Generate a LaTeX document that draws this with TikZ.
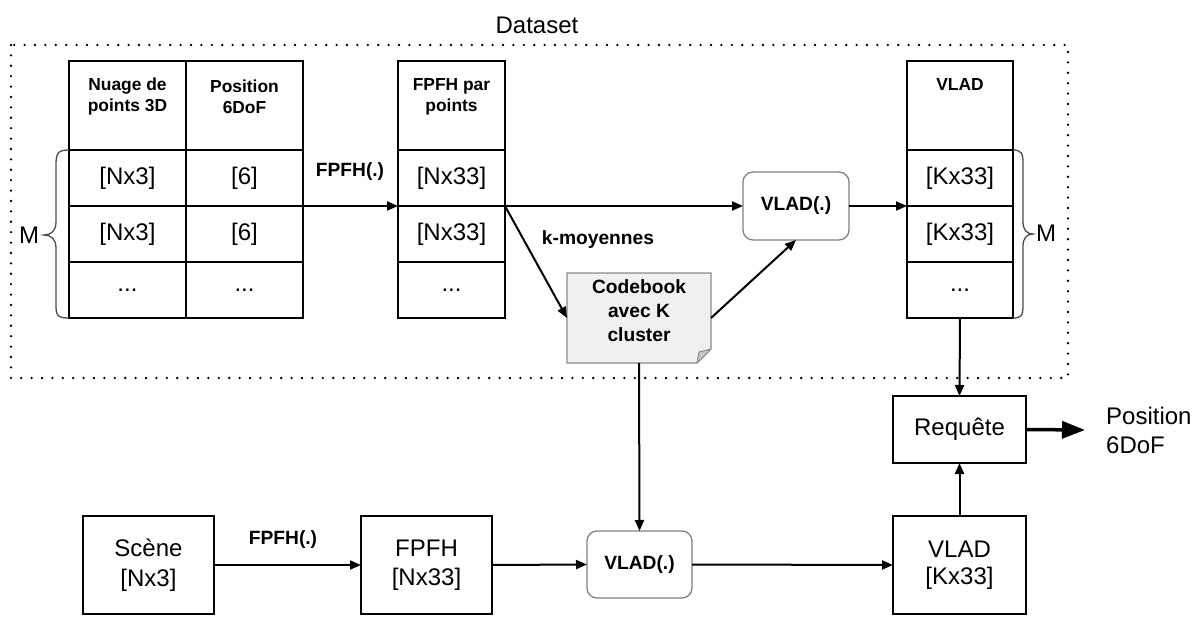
\documentclass[tikz,border=0pt]{standalone}
\usepackage{fontspec}
\setmainfont{Liberation Sans}
\usetikzlibrary{arrows.meta,calc}
\begin{document}
\begin{tikzpicture}[x=1pt,y=-1pt,
  reg/.style={font=\fontsize{24}{29}\selectfont, inner sep=0pt},
  hdr/.style={font=\fontsize{17.4}{21}\selectfont\bfseries, align=center, inner sep=0pt},
  lbl/.style={font=\fontsize{19.2}{24}\selectfont\bfseries, align=center, inner sep=0pt},
  cell/.style={draw, line width=2pt, inner sep=0pt, outer sep=0pt, font=\fontsize{24}{29}\selectfont},
  box/.style={draw, line width=2pt, inner sep=0pt, outer sep=0pt, align=center, font=\fontsize{24}{29}\selectfont},
  rbox/.style={draw=black!50, line width=1.3pt, rounded corners=10pt, inner sep=0pt, outer sep=0pt, font=\fontsize{19.2}{23.5}\selectfont\bfseries},
  conn/.style={line width=2pt, -{Triangle[length=11pt,width=9pt]}},
  brc/.style={draw=black!70, line width=1.3pt}
]
\useasboundingbox (0,0) rectangle (1202,620);

% Dataset frame
\draw[line width=2.6pt, line cap=round, dash pattern=on 0pt off 10.4pt] (11,45) rectangle (1068,378);
\node[reg] (ds) at (537,25) {Dataset};

% Table 1
\node[cell, minimum width=117pt, minimum height=89pt] (t1h1) at (127.5,105.5) {};
\node[cell, minimum width=117pt, minimum height=89pt] (t1h2) at (244.5,105.5) {};
\node[cell, minimum width=117pt, minimum height=56pt] (t1a1) at (127.5,178) {[Nx3]};
\node[cell, minimum width=117pt, minimum height=56pt] (t1a2) at (244.5,178) {[6]};
\node[cell, minimum width=117pt, minimum height=56pt] (t1b1) at (127.5,234) {[Nx3]};
\node[cell, minimum width=117pt, minimum height=56pt] (t1b2) at (244.5,234) {[6]};
\node[cell, minimum width=117pt, minimum height=56pt] (t1c1) at (127.5,290) {...};
\node[cell, minimum width=117pt, minimum height=56pt] (t1c2) at (244.5,290) {...};
\node[hdr] (t1t1) at (127.5,96.5) {Nuage de\\points 3D};
\node[hdr] (t1t2) at (244.5,96.5) {Position\\6DoF};

% left brace
\draw[brc] (69,150) .. controls (58,150) and (56,153) .. (56,165) -- (56,222)
  .. controls (56,231) and (51,235) .. (44,235)
  .. controls (51,235) and (56,239) .. (56,248) -- (56,305)
  .. controls (56,316) and (58,318) .. (69,318);
\node[reg] (mleft) at (29,235) {M};

% Table 2
\node[cell, minimum width=107pt, minimum height=89pt] (t2h) at (451.5,105.5) {};
\node[cell, minimum width=107pt, minimum height=56pt] (t2a) at (451.5,178) {[Nx33]};
\node[cell, minimum width=107pt, minimum height=56pt] (t2b) at (451.5,234) {[Nx33]};
\node[cell, minimum width=107pt, minimum height=56pt] (t2c) at (451.5,290) {...};
\node[hdr] (t2t) at (451.5,96.5) {FPFH par\\points};

% Table 3
\node[cell, minimum width=106pt, minimum height=89pt] (t3h) at (960,105.5) {};
\node[cell, minimum width=106pt, minimum height=56pt] (t3a) at (960,178) {[Kx33]};
\node[cell, minimum width=106pt, minimum height=56pt] (t3b) at (960,234) {[Kx33]};
\node[cell, minimum width=106pt, minimum height=56pt] (t3c) at (960,290) {...};
\node[hdr] (t3t) at (960,85) {VLAD};

% right brace
\draw[brc] (1013,150) .. controls (1021,150) and (1023,153) .. (1023,163) -- (1023,222)
  .. controls (1023,230) and (1027,234) .. (1033,234)
  .. controls (1027,234) and (1023,238) .. (1023,246) -- (1023,305)
  .. controls (1023,316) and (1021,318) .. (1013,318);
\node[reg] (mright) at (1046,233) {M};

% VLAD(.) top
\node[rbox, minimum width=106pt, minimum height=68pt] (v1) at (796,206) {VLAD(.)};

% Codebook
\node[inner sep=0pt, outer sep=0pt, minimum width=144pt, minimum height=90pt] (cb) at (639,318) {};
\draw[draw=black!45, fill=black!6, line width=1.3pt] (cb.north west) -- (cb.north east)
  -- ($(cb.south east)+(0,-14)$) -- ($(cb.south east)+(-14,0)$) -- (cb.south west) -- cycle;
\draw[draw=black!45, fill=black!22, line width=1pt, line join=round] ($(cb.south east)+(0,-14)$)
  -- ($(cb.south east)+(-14,0)$) -- ($(cb.south east)+(-12,-11)$) -- cycle;
\node[lbl] (cbt) at (639,311) {Codebook\\avec K\\cluster};

% top connectors
\draw[conn] (t1a2.south east) -- (t2a.south west);
\node[lbl] (l1) at (350,172) {FPFH(.)};
\draw[conn] (t2a.south east) -- (v1.west);
\draw[conn] (t2a.south east) -- (cb.west);
\node[lbl] (l2) at (598,240) {k-moyennes};
\draw[conn] (cb.east) -- (v1.south);
\draw[conn] (v1.east) -- (t3a.south west);

% bottom row
\node[box, minimum width=131pt, minimum height=98pt, font=\fontsize{24}{30}\selectfont] (sc) at (148.5,565) {Scène\\{[Nx3]}};
\node[box, minimum width=131pt, minimum height=98pt, font=\fontsize{24}{29}\selectfont] (fp) at (426.5,565) {FPFH\\{[Nx33]}};
\node[rbox, minimum width=105pt, minimum height=67pt] (v2) at (639.5,564.5) {VLAD(.)};
\node[box, minimum width=133pt, minimum height=98pt, font=\fontsize{24}{27}\selectfont] (vk) at (959.5,565) {VLAD\\{[Kx33]}};
\node[box, minimum width=133pt, minimum height=67pt] (rq) at (959.5,429.5) {Requête};
\node[reg, anchor=west, align=left] (pos) at (1106,430) {Position\\6DoF};

\draw[conn] (sc.east) -- (fp.west);
\node[lbl] (l3) at (283,540) {FPFH(.)};
\draw[conn] (fp.east) -- (v2.west);
\draw[conn] (v2.east) -- (vk.west);
\draw[conn] (cb.south) -- (v2.north);
\draw[conn] (t3c.south) -- (rq.north);
\draw[conn] (vk.north) -- (rq.south);
\draw[line width=3.5pt, -{Triangle[length=23pt,width=17pt]}] (rq.east) -- ([xshift=-21pt]pos.west);
\end{tikzpicture}
\end{document}
